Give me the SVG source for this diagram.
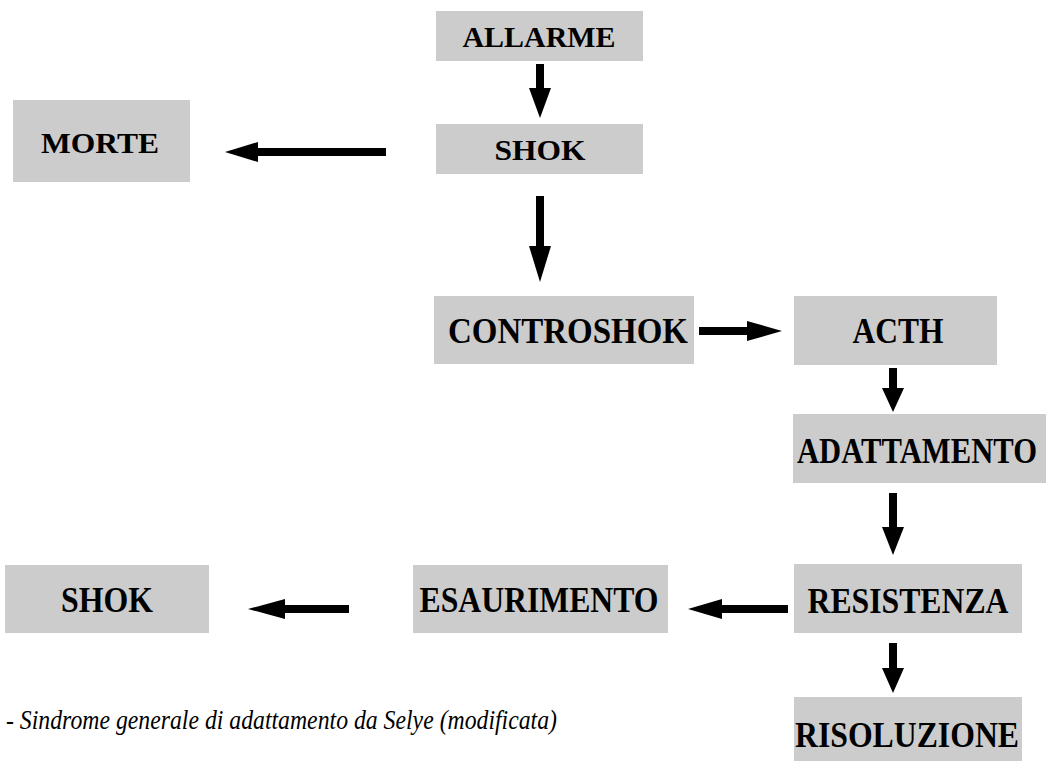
<svg xmlns="http://www.w3.org/2000/svg" width="1046" height="761" viewBox="0 0 1046 761">
<style>
.box{fill:#cccccc}
.t{font-family:"Liberation Serif","Times New Roman",serif;font-weight:bold;fill:#000;text-anchor:middle}
.s{font-size:30px}
.b{font-size:35px}
.arr{fill:#000}
.cap{font-family:"Liberation Serif","Times New Roman","DejaVu Serif",serif;font-style:italic;font-size:27px;fill:#000}
</style>
<rect width="1046" height="761" fill="#fff"/>
<g id="allarme"><rect class="box" x="436" y="11" width="207" height="50"/><text class="t s" x="539" y="47" textLength="153" lengthAdjust="spacingAndGlyphs">ALLARME</text></g>
<g id="shok1"><rect class="box" x="436" y="124" width="207" height="50"/><text class="t s" x="540" y="160" textLength="91" lengthAdjust="spacingAndGlyphs">SHOK</text></g>
<g id="morte"><rect class="box" x="13" y="100" width="177" height="82"/><text class="t s" x="100" y="153" textLength="118" lengthAdjust="spacingAndGlyphs">MORTE</text></g>
<g id="controshok"><rect class="box" x="434" y="296" width="260" height="68"/><text class="t b" x="568" y="343" textLength="240" lengthAdjust="spacingAndGlyphs">CONTROSHOK</text></g>
<g id="acth"><rect class="box" x="794" y="296" width="203" height="69"/><text class="t b" x="898" y="343" textLength="91" lengthAdjust="spacingAndGlyphs">ACTH</text></g>
<g id="adattamento"><rect class="box" x="793" y="414" width="253" height="69"/><text class="t b" x="917" y="463" textLength="240" lengthAdjust="spacingAndGlyphs">ADATTAMENTO</text></g>
<g id="resistenza"><rect class="box" x="794" y="564" width="228" height="69"/><text class="t b" x="908" y="613" textLength="201" lengthAdjust="spacingAndGlyphs">RESISTENZA</text></g>
<g id="risoluzione"><rect class="box" x="794" y="697" width="228" height="64"/><text class="t b" x="907" y="747" textLength="224" lengthAdjust="spacingAndGlyphs">RISOLUZIONE</text></g>
<g id="esaurimento"><rect class="box" x="413" y="565" width="255" height="68"/><text class="t b" x="539" y="612" textLength="239" lengthAdjust="spacingAndGlyphs">ESAURIMENTO</text></g>
<g id="shok2"><rect class="box" x="5" y="565" width="204" height="68"/><text class="t b" x="107" y="612" textLength="92" lengthAdjust="spacingAndGlyphs">SHOK</text></g>
<g id="connectors" class="arr">
<path d="M536,64H544V88H551L540,118L529,88H536Z"/>
<path d="M536,196H544V246H551L540,282L529,246H536Z"/>
<path d="M386,148V156H258V162L225,152L258,142V148Z"/>
<path d="M699,327H747V321L782,331L747,341V335H699Z"/>
<path d="M889,368H897V388H904L893,412L882,388H889Z"/>
<path d="M889,493H897V527H904L893,555L882,527H889Z"/>
<path d="M889,643H897V668H904L893,693L882,668H889Z"/>
<path d="M788,605V613H722V619L688,609L722,599V605Z"/>
<path d="M349,605V613H285V619L248,609L285,599V605Z"/>
</g>
<text class="cap" x="6" y="729" textLength="551" lengthAdjust="spacingAndGlyphs">- Sindrome generale di adattamento da Selye (modificata)</text>
</svg>
